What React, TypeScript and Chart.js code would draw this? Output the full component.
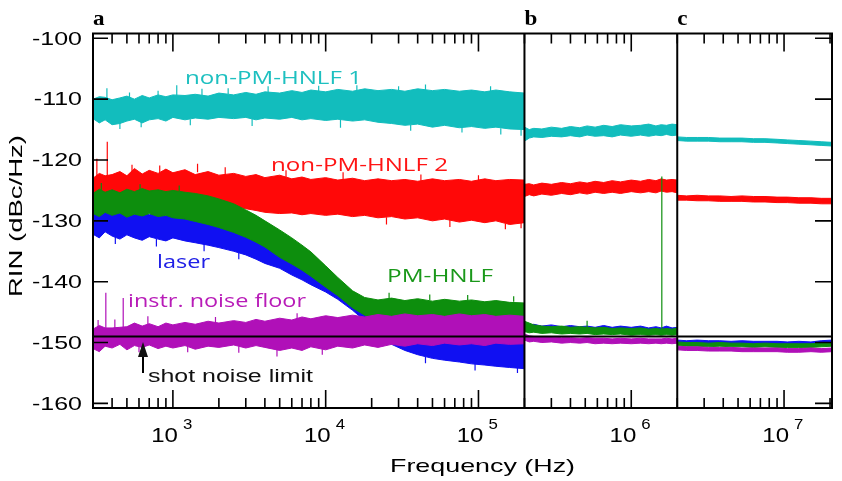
import { useEffect, useRef } from "react";
import { Chart, registerables } from "chart.js";

Chart.register(...registerables);

// Frequency grids (Hz) of the three analyzer spans
const SPAN_A_FREQ = [
  300, 330, 360, 400, 450, 500, 560, 630, 700, 800, 900, 1000, 1200, 1400, 1700, 2000,
  2500, 3000, 3500, 4000, 5000, 6000, 7000, 8000, 10000, 12000, 15000, 18000, 22000,
  27000, 33000, 40000, 50000, 60000, 75000, 90000, 110000, 130000, 160000, 200000,
];
const SPAN_B_FREQ = [
  200000, 215000, 230000, 260000, 300000, 350000, 400000, 460000, 514000, 580000, 660000,
  750000, 850000, 1000000, 1150000, 1300000, 1450000, 1570000, 1700000, 1850000, 2000000,
];
const SPAN_C_FREQ = [
  2000000, 2300000, 2700000, 3200000, 3800000, 4500000, 5300000, 6300000, 7500000,
  9000000, 10500000, 12500000, 15000000, 17500000, 20600000,
];

// RIN (dBc/Hz): upper and lower edge of every noisy trace
const CYAN_A_HI = [-110.0, -109.6, -109.7, -110.1, -109.8, -109.5, -110.0, -109.4, -109.8, -109.3, -109.6, -109.3, -109.4, -109.2, -109.5, -109.0, -109.3, -108.9, -109.2, -108.8, -109.0, -108.6, -108.9, -108.5, -108.8, -108.4, -108.7, -108.3, -108.6, -108.4, -108.7, -108.3, -108.6, -108.4, -108.7, -108.5, -108.8, -108.5, -108.8, -109.0];
const CYAN_A_LO = [-113.2, -113.9, -113.4, -114.2, -114.0, -113.6, -113.3, -113.9, -113.4, -113.2, -113.6, -113.0, -113.4, -113.1, -113.3, -113.0, -113.2, -113.0, -113.4, -113.1, -113.3, -113.0, -113.4, -113.2, -113.5, -113.3, -113.6, -113.4, -113.8, -114.0, -114.3, -114.1, -114.6, -114.3, -114.7, -114.5, -114.8, -114.6, -114.9, -115.0];
const RED_A_HI = [-123.0, -122.2, -122.6, -122.4, -121.9, -122.6, -121.4, -122.3, -121.7, -122.2, -121.5, -122.1, -121.6, -122.4, -121.9, -122.5, -122.2, -122.7, -122.4, -122.9, -122.5, -123.1, -122.8, -123.2, -122.9, -123.3, -123.0, -123.4, -123.1, -123.4, -123.2, -123.5, -123.1, -123.4, -123.2, -123.5, -123.1, -123.4, -123.2, -123.3];
const RED_A_LO = [-125.6, -125.9, -125.4, -125.8, -126.0, -125.7, -126.1, -125.8, -126.2, -125.9, -126.3, -126.1, -126.4, -126.6, -126.9, -127.2, -127.6, -128.0, -128.3, -128.6, -128.8, -128.7, -129.0, -128.8, -129.1, -128.9, -129.3, -129.1, -129.5, -129.3, -129.7, -129.5, -130.0, -129.7, -130.2, -129.9, -130.3, -130.0, -130.6, -130.3];
const GREEN_A_HI = [-125.5, -124.8, -125.3, -124.9, -125.4, -124.8, -125.2, -124.7, -125.1, -124.9, -125.2, -125.0, -125.3, -125.5, -125.9, -126.4, -127.2, -128.2, -129.1, -130.0, -131.5, -132.8, -134.0, -135.1, -137.4, -139.3, -141.5, -142.6, -143.0, -142.7, -143.1, -142.8, -143.2, -142.9, -143.2, -143.0, -143.3, -143.1, -143.4, -143.5];
const GREEN_A_LO = [-128.8, -129.3, -128.6, -129.1, -128.7, -129.4, -128.9, -129.2, -128.8, -129.3, -129.1, -129.5, -129.7, -130.1, -130.6, -131.1, -131.9, -132.7, -133.5, -134.3, -136.0, -137.1, -138.1, -139.1, -140.9, -142.3, -144.3, -145.5, -146.0, -146.1, -146.2, -146.2, -146.2, -146.2, -146.2, -146.2, -146.2, -146.2, -146.2, -146.2];
const BLUE_A_HI = [-128.3, -127.8, -128.6, -128.1, -128.8, -128.4, -128.9, -128.5, -129.0, -128.7, -129.2, -128.9, -129.4, -129.7, -130.0, -130.5, -131.2, -132.0, -132.8, -133.6, -134.8, -136.0, -137.0, -138.0, -139.6, -141.0, -142.6, -143.8, -144.5, -145.0, -145.3, -145.5, -145.5, -145.5, -145.5, -145.5, -145.5, -145.5, -145.5, -145.5];
const BLUE_A_LO = [-132.2, -132.8, -131.8, -132.5, -133.0, -132.3, -132.8, -133.2, -132.6, -133.0, -133.3, -132.8, -133.3, -133.6, -134.0, -134.4, -135.0, -135.6, -136.3, -137.0, -137.8, -138.9, -139.7, -140.5, -141.7, -142.9, -144.7, -146.4, -148.8, -150.3, -151.3, -152.0, -152.6, -152.9, -153.2, -153.5, -153.7, -153.9, -154.1, -154.3];
const MAG_A_HI = [-147.8, -147.2, -147.6, -147.6, -147.5, -147.4, -146.8, -147.3, -146.9, -147.4, -146.8, -147.1, -146.7, -147.0, -146.5, -146.8, -146.4, -146.7, -146.2, -146.5, -146.0, -146.3, -145.8, -146.1, -145.6, -145.9, -145.5, -145.8, -145.4, -145.7, -145.3, -145.6, -145.4, -145.7, -145.3, -145.6, -145.4, -145.7, -145.5, -145.7];
const MAG_A_LO = [-151.0, -151.5, -150.6, -150.9, -150.3, -151.2, -150.5, -150.8, -150.4, -151.0, -150.6, -150.9, -150.5, -151.1, -150.6, -150.8, -150.4, -150.9, -150.5, -150.8, -151.3, -150.9, -151.3, -150.7, -151.2, -150.6, -150.9, -150.4, -150.8, -150.3, -150.6, -150.2, -150.5, -150.1, -150.4, -150.2, -150.5, -150.1, -150.3, -150.2];

const CYAN_B_HI = [-114.6, -115.0, -114.8, -114.9, -114.6, -114.8, -114.5, -114.7, -114.4, -114.6, -114.3, -114.5, -114.2, -114.4, -114.3, -114.1, -114.4, -114.2, -114.3, -114.1, -114.2];
const CYAN_B_LO = [-116.9, -116.4, -116.2, -116.3, -116.1, -116.2, -116.0, -116.2, -115.9, -116.1, -116.0, -116.2, -115.9, -116.1, -115.9, -116.1, -115.9, -116.0, -115.8, -116.0, -115.9];
const RED_B_HI = [-124.0, -123.9, -124.1, -123.8, -124.0, -123.7, -123.9, -123.6, -123.8, -123.5, -123.7, -123.4, -123.6, -123.3, -123.5, -123.2, -123.4, -123.1, -123.3, -123.2, -123.3];
const RED_B_LO = [-126.0, -125.7, -125.9, -125.6, -125.8, -125.5, -125.7, -125.4, -125.6, -125.3, -125.5, -125.3, -125.5, -125.2, -125.4, -125.2, -125.4, -125.1, -125.3, -125.2, -125.4];
const GREEN_B_HI = [-146.5, -146.8, -147.1, -147.3, -147.4, -147.3, -147.5, -147.4, -147.5, -147.6, -147.5, -147.7, -147.6, -147.7, -147.6, -147.8, -147.7, -147.8, -147.7, -147.8, -147.6];
const GREEN_B_LO = [-148.2, -148.4, -148.3, -148.5, -148.4, -148.6, -148.5, -148.6, -148.5, -148.7, -148.6, -148.7, -148.6, -148.8, -148.7, -148.8, -148.7, -148.8, -148.7, -148.8, -148.7];
const BLUE_B_HI = [-146.9, -147.2, -147.0, -147.3, -147.1, -147.4, -147.2, -147.4, -147.3, -147.5, -147.2, -147.5, -147.3, -147.5, -147.3, -147.6, -147.4, -147.6, -147.3, -147.6, -147.5];
const BLUE_B_LO = [-148.0, -148.2, -148.1, -148.3, -148.2, -148.4, -148.3, -148.4, -148.3, -148.5, -148.4, -148.5, -148.4, -148.6, -148.5, -148.6, -148.5, -148.6, -148.5, -148.6, -148.5];
const MAG_B_HI = [-148.6, -148.9, -149.0, -149.1, -149.1, -149.2, -149.2, -149.3, -149.2, -149.3, -149.3, -149.4, -149.3, -149.4, -149.3, -149.4, -149.4, -149.4, -149.3, -149.4, -149.3];
const MAG_B_LO = [-149.6, -149.9, -149.8, -150.0, -149.9, -150.1, -150.0, -150.1, -150.0, -150.2, -150.1, -150.2, -150.1, -150.2, -150.1, -150.2, -150.1, -150.2, -150.1, -150.2, -150.1];

const CYAN_C_HI = [-116.2, -116.3, -116.3, -116.3, -116.4, -116.4, -116.4, -116.5, -116.5, -116.6, -116.7, -116.8, -116.9, -117.0, -117.1];
const CYAN_C_LO = [-116.8, -116.9, -116.9, -116.9, -117.0, -117.0, -117.0, -117.1, -117.1, -117.2, -117.3, -117.4, -117.5, -117.6, -117.7];
const RED_C_HI = [-125.8, -125.9, -125.8, -125.9, -125.9, -126.0, -125.9, -126.0, -126.0, -126.1, -126.1, -126.2, -126.2, -126.3, -126.3];
const RED_C_LO = [-126.6, -126.6, -126.7, -126.7, -126.8, -126.8, -126.8, -126.9, -126.9, -127.0, -127.0, -127.1, -127.1, -127.2, -127.2];
const GREEN_C_HI = [-149.9, -150.0, -150.0, -150.1, -150.0, -150.1, -150.1, -150.2, -150.1, -150.2, -150.2, -150.2, -150.2, -150.1, -150.0];
const GREEN_C_LO = [-150.5, -150.6, -150.6, -150.7, -150.6, -150.7, -150.7, -150.8, -150.7, -150.8, -150.8, -150.8, -150.8, -150.7, -150.6];
const BLUE_C_HI = [-149.6, -149.7, -149.6, -149.7, -149.7, -149.8, -149.7, -149.8, -149.8, -149.8, -149.9, -149.8, -149.9, -149.7, -149.6];
const BLUE_C_LO = [-150.2, -150.3, -150.2, -150.3, -150.3, -150.4, -150.3, -150.4, -150.4, -150.4, -150.5, -150.4, -150.5, -150.3, -150.2];
const MAG_C_HI = [-150.6, -150.7, -150.7, -150.8, -150.8, -150.8, -150.9, -150.9, -150.9, -150.9, -151.0, -151.0, -150.9, -151.0, -150.9];
const MAG_C_LO = [-151.2, -151.3, -151.3, -151.4, -151.4, -151.4, -151.5, -151.5, -151.5, -151.5, -151.6, -151.6, -151.5, -151.6, -151.5];

// Isolated spurs: [frequency (Hz), from (dBc/Hz), to (dBc/Hz)]
const CYAN_SPURS = [
  [370, -110, -108.2], [1060, -109.5, -107.7], [450, -113.5, -114.9], [78000, -114, -115.5],
  [520, -110, -108.9], [800, -109.6, -108.6], [1550, -109.4, -108.3], [2300, -109.2, -108.2],
  [4200, -109, -107.9], [9000, -108.8, -107.8], [16000, -108.7, -107.7], [30000, -108.6, -107.9],
  [45000, -108.5, -107.6], [120000, -108.7, -107.9], [620, -113.5, -114.6], [1300, -113.3, -114.3],
  [3300, -113.2, -114.4], [12500, -113.4, -114.7], [36000, -114.2, -115.2], [140000, -114.8, -115.8],
  [190000, -115, -116],
];
const RED_SPURS = [
  [318, -123, -119.8], [372, -123, -117.0], [1450, -122, -120.6], [540, -122.5, -120.8],
  [820, -122.2, -120.9], [2200, -122.5, -121.2], [5500, -122.8, -121.7], [13000, -123.2, -122.0],
  [42000, -123.4, -122.4], [100000, -123.3, -122.5], [25000, -129.4, -130.6], [65000, -129.8, -131.0],
  [150000, -130.5, -131.4], [190000, -130.3, -131.2],
];
const GREEN_SPURS = [
  [514000, -148, -146.4], [1585000, -148.2, -122.7], [340, -125, -123.8], [610, -125, -124.0],
  [1100, -125.1, -124.2], [26000, -142.8, -141.8], [48000, -143, -142.1], [85000, -143.1, -142.2],
  [170000, -143.3, -142.4],
];
const BLUE_SPURS = [
  [330, -128, -126.9], [420, -132.5, -133.8], [780, -133, -134.2], [1600, -133.8, -135.0],
  [2700, -135.2, -136.3], [45000, -152.3, -153.4], [95000, -153.5, -154.6], [180000, -154.2, -155.0],
];
const MAG_SPURS = [
  [324, -148, -146.3], [364, -148, -141.8], [417, -148, -146.2], [473, -148, -142.7],
  [686, -148, -145.7], [4800, -150.5, -152.3], [600, -150.6, -151.6], [1250, -150.6, -151.6],
  [2700, -150.6, -151.7], [9500, -151, -152.0], [1900, -146.8, -145.8], [6500, -146.2, -145.2],
];

const SHOT_NOISE_LIMIT = -149;
const X_MIN = 300;
const X_MAX = 2.06e7;
const Y_MIN = -160.76;
const Y_MAX = -99.21;
const Y_TICKS = [-100, -110, -120, -130, -140, -150, -160];
const X_DECADES = [3, 4, 5, 6, 7];
const SPAN_EDGES = [2e5, 2e6];
const PANEL_LETTERS = ["a", "b", "c"];

const CYAN = "#12bdbd";
const RED = "#ff0808";
const GREEN = "#0d8e0d";
const BLUE = "#1010f2";
const MAGENTA = "#b010b8";

function band(name: string, color: string, order: number, freq: number[], hi: number[], lo: number[]) {
  return [
    {
      label: name,
      data: freq.map((f, i) => ({ x: f, y: hi[i] })),
      borderColor: color,
      backgroundColor: color,
      borderWidth: 1,
      pointRadius: 0,
      fill: false,
      order,
    },
    {
      label: name,
      data: freq.map((f, i) => ({ x: f, y: lo[i] })),
      borderColor: color,
      backgroundColor: color,
      borderWidth: 1,
      pointRadius: 0,
      fill: "-1",
      order,
    },
  ];
}

function spurs(name: string, color: string, order: number, list: number[][]) {
  return {
    label: name,
    data: list.flatMap(([f, a, b]) => [
      { x: f, y: a },
      { x: f, y: b },
      { x: f, y: null },
    ]),
    borderColor: color,
    borderWidth: 1.2,
    pointRadius: 0,
    fill: false,
    spanGaps: false,
    order,
  };
}

function buildDatasets() {
  return [
    {
      label: "shot noise limit",
      data: [
        { x: X_MIN, y: SHOT_NOISE_LIMIT },
        { x: X_MAX, y: SHOT_NOISE_LIMIT },
      ],
      borderColor: "#000",
      borderWidth: 2,
      pointRadius: 0,
      fill: false,
      order: 0,
    },
    ...band("instr. noise floor", MAGENTA, 1, SPAN_A_FREQ, MAG_A_HI, MAG_A_LO),
    ...band("instr. noise floor", MAGENTA, 1, SPAN_B_FREQ, MAG_B_HI, MAG_B_LO),
    ...band("instr. noise floor", MAGENTA, 1, SPAN_C_FREQ, MAG_C_HI, MAG_C_LO),
    spurs("instr. noise floor", MAGENTA, 1, MAG_SPURS),
    ...band("PM-HNLF", GREEN, 2, SPAN_A_FREQ, GREEN_A_HI, GREEN_A_LO),
    ...band("PM-HNLF", GREEN, 2, SPAN_B_FREQ, GREEN_B_HI, GREEN_B_LO),
    ...band("PM-HNLF", GREEN, 2, SPAN_C_FREQ, GREEN_C_HI, GREEN_C_LO),
    spurs("PM-HNLF", GREEN, 2, GREEN_SPURS),
    ...band("laser", BLUE, 3, SPAN_A_FREQ, BLUE_A_HI, BLUE_A_LO),
    ...band("laser", BLUE, 3, SPAN_B_FREQ, BLUE_B_HI, BLUE_B_LO),
    ...band("laser", BLUE, 3, SPAN_C_FREQ, BLUE_C_HI, BLUE_C_LO),
    spurs("laser", BLUE, 3, BLUE_SPURS),
    ...band("non-PM-HNLF 2", RED, 4, SPAN_A_FREQ, RED_A_HI, RED_A_LO),
    ...band("non-PM-HNLF 2", RED, 4, SPAN_B_FREQ, RED_B_HI, RED_B_LO),
    ...band("non-PM-HNLF 2", RED, 4, SPAN_C_FREQ, RED_C_HI, RED_C_LO),
    spurs("non-PM-HNLF 2", RED, 4, RED_SPURS),
    ...band("non-PM-HNLF 1", CYAN, 5, SPAN_A_FREQ, CYAN_A_HI, CYAN_A_LO),
    ...band("non-PM-HNLF 1", CYAN, 5, SPAN_B_FREQ, CYAN_B_HI, CYAN_B_LO),
    ...band("non-PM-HNLF 1", CYAN, 5, SPAN_C_FREQ, CYAN_C_HI, CYAN_C_LO),
    spurs("non-PM-HNLF 1", CYAN, 5, CYAN_SPURS),
  ];
}

// Draws text with a horizontal stretch along the writing direction
function drawText(
  ctx: CanvasRenderingContext2D,
  text: string,
  x: number,
  y: number,
  font: string,
  color: string,
  opt: { width?: number; sx?: number; align?: "left" | "right" | "center"; rot?: number } = {}
) {
  ctx.save();
  ctx.font = font;
  ctx.fillStyle = color;
  ctx.textBaseline = "alphabetic";
  ctx.textAlign = "left";
  const w0 = ctx.measureText(text).width;
  const sx = opt.width ? opt.width / w0 : opt.sx ?? 1;
  ctx.translate(x, y);
  if (opt.rot) ctx.rotate(opt.rot);
  ctx.scale(sx, 1);
  const align = opt.align ?? "left";
  const off = align === "left" ? 0 : align === "right" ? -w0 : -w0 / 2;
  ctx.fillText(text, off, 0);
  ctx.restore();
}

const axesPlugin = {
  id: "rinAxes",
  afterDraw(chart: any) {
    const { ctx, chartArea: a, scales } = chart;
    const xs = scales.x;
    const ys = scales.y;
    ctx.save();
    ctx.strokeStyle = "#000";
    ctx.lineCap = "butt";

    // inward ticks on all four sides
    ctx.lineWidth = 1.6;
    ctx.beginPath();
    for (let e = 2; e <= 7; e++) {
      for (let m = 1; m <= 9; m++) {
        const v = m * Math.pow(10, e);
        if (v <= X_MIN || v >= X_MAX) continue;
        const px = xs.getPixelForValue(v);
        const len = m === 1 ? 18 : 10;
        ctx.moveTo(px, a.top);
        ctx.lineTo(px, a.top + len);
        ctx.moveTo(px, a.bottom);
        ctx.lineTo(px, a.bottom - len);
      }
    }
    for (const v of Y_TICKS) {
      const py = ys.getPixelForValue(v);
      ctx.moveTo(a.left, py);
      ctx.lineTo(a.left + 15, py);
      ctx.moveTo(a.right, py);
      ctx.lineTo(a.right - 17, py);
    }
    ctx.stroke();

    // frame and span separators
    ctx.lineWidth = 2;
    ctx.strokeRect(a.left, a.top, a.right - a.left, a.bottom - a.top);
    ctx.beginPath();
    for (const f of SPAN_EDGES) {
      const px = xs.getPixelForValue(f);
      ctx.moveTo(px, a.top);
      ctx.lineTo(px, a.bottom);
    }
    ctx.stroke();

    // y tick labels
    const yFont = "18px 'Liberation Sans', Arial, sans-serif";
    ctx.font = yFont;
    const ySx = 50 / ctx.measureText("-100").width;
    for (const v of Y_TICKS) {
      const py = ys.getPixelForValue(v);
      drawText(ctx, String(v), a.left - 11, py + 6.3, yFont, "#000", { sx: ySx, align: "right" });
    }

    // x tick labels 10^n
    const baseFont = "20px 'Liberation Sans', Arial, sans-serif";
    const supFont = "14px 'Liberation Sans', Arial, sans-serif";
    for (const e of X_DECADES) {
      const px = xs.getPixelForValue(Math.pow(10, e));
      drawText(ctx, "10", px + 5, 442, baseFont, "#000", { sx: 1.2, align: "right" });
      drawText(ctx, String(e), px + 10, 429, supFont, "#000", { sx: 1.2, align: "left" });
    }

    // axis titles
    const titleFont = "19px 'Liberation Sans', Arial, sans-serif";
    drawText(ctx, "Frequency (Hz)", 390, 472, titleFont, "#000", { width: 185 });
    drawText(ctx, "RIN (dBc/Hz)", 21.5, 216, titleFont, "#000", { width: 162, align: "center", rot: -Math.PI / 2 });

    // panel letters above each span
    const letterFont = "bold 21px 'Liberation Serif', 'Times New Roman', serif";
    const starts = [X_MIN, ...SPAN_EDGES];
    PANEL_LETTERS.forEach((l, i) => {
      const px = xs.getPixelForValue(starts[i]);
      drawText(ctx, l, px, 25, letterFont, "#000", { sx: 1.1 });
    });

    // trace annotations
    const annFont = "18px 'Open Sans', sans-serif";
    drawText(ctx, "non-PM-HNLF 1", 185, 83.5, annFont, "#1ec0c0", { width: 177 });
    drawText(ctx, "non-PM-HNLF 2", 271, 170.7, annFont, "#ff1414", { width: 177 });
    drawText(ctx, "laser", 157, 268, annFont, "#2020e6", { width: 53 });
    drawText(ctx, "PM-HNLF", 387, 281.7, annFont, "#1a981a", { width: 106 });
    drawText(ctx, "instr. noise floor", 128, 306.7, annFont, "#b81cb8", { width: 178 });
    drawText(ctx, "shot noise limit", 148, 381.7, "18px 'Liberation Sans', Arial, sans-serif", "#111", { width: 165 });

    // arrow pointing at the shot noise limit
    const ax = 143;
    ctx.lineWidth = 2;
    ctx.beginPath();
    ctx.moveTo(ax, 373);
    ctx.lineTo(ax, 354);
    ctx.stroke();
    ctx.fillStyle = "#111";
    ctx.beginPath();
    ctx.moveTo(ax, 342);
    ctx.lineTo(ax - 5, 357);
    ctx.lineTo(ax + 5, 357);
    ctx.closePath();
    ctx.fill();

    ctx.restore();
  },
};

export default function App() {
  const ref = useRef<HTMLCanvasElement>(null);

  useEffect(() => {
    if (!ref.current) return;
    const chart = new Chart(ref.current, {
      type: "line",
      data: { datasets: buildDatasets() as any },
      options: {
        responsive: false,
        animation: false,
        devicePixelRatio: 1,
        layout: { padding: { left: 93, top: 33.5, right: 10, bottom: 73 } },
        scales: {
          x: { type: "logarithmic", min: X_MIN, max: X_MAX, display: false },
          y: { type: "linear", min: Y_MIN, max: Y_MAX, display: false },
        },
        elements: { line: { tension: 0 }, point: { radius: 0 } },
        plugins: { legend: { display: false }, tooltip: { enabled: false } },
      },
      plugins: [axesPlugin],
    });
    return () => chart.destroy();
  }, []);

  return (
    <div style={{ position: "fixed", left: 0, top: 0, width: 842, height: 481, background: "#fff" }}>
      <canvas ref={ref} width={842} height={481} style={{ display: "block", width: 842, height: 481 }} />
    </div>
  );
}
